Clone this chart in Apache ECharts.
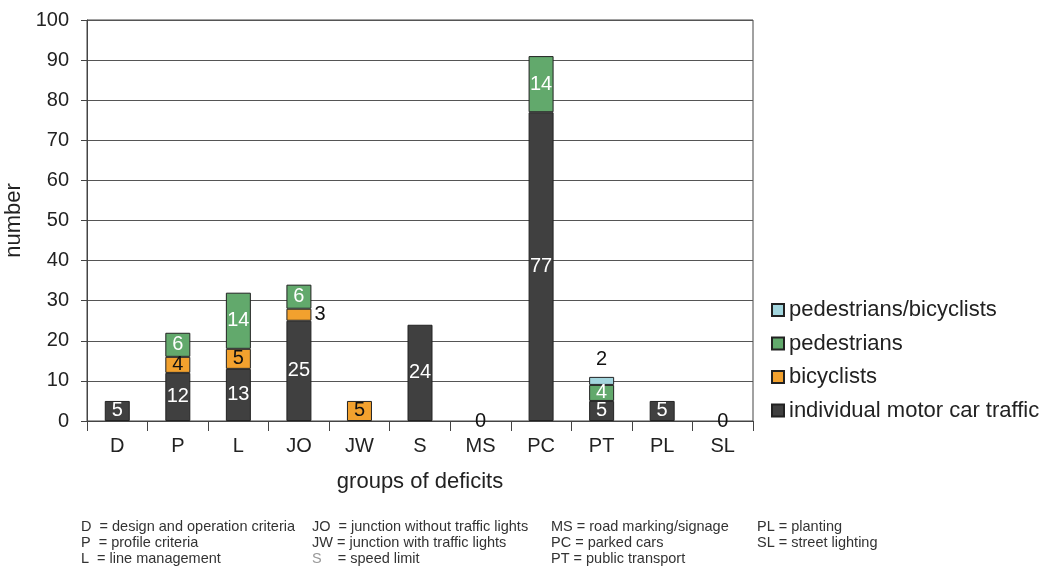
<!DOCTYPE html>
<html>
<head>
<meta charset="utf-8">
<script src="https://cdn.jsdelivr.net/npm/echarts@6/dist/echarts.min.js"></script>
<style>
  html, body { margin: 0; padding: 0; background: #fff; }
  #chart { width: 1050px; height: 569px; }
</style>
</head>
<body>
<div id="chart"></div>
<script>
// Groups of deficits and the number of cases per road-user group
const categories = ['D', 'P', 'L', 'JO', 'JW', 'S', 'MS', 'PC', 'PT', 'PL', 'SL'];
const motorCar    = [5, 12, 13, 25, 0, 24, 0, 77, 5, 5, 0];
const bicyclists  = [0, 4, 5, 3, 5, 0, 0, 0, 0, 0, 0];
const pedestrians = [0, 6, 14, 6, 0, 0, 0, 14, 4, 0, 0];
const pedBic      = [0, 0, 0, 0, 0, 0, 0, 0, 2, 0, 0];
// groups whose empty bar still carries a "0" label
const zeroLabelCats = ['MS', 'SL'];
const yTicks = [0, 10, 20, 30, 40, 50, 60, 70, 80, 90, 100];

const footnotes = [
  ['D  = design and operation criteria', 'P  = profile criteria', 'L  = line management'],
  ['JO  = junction without traffic lights', 'JW = junction with traffic lights', '{g|S}    = speed limit'],
  ['MS = road marking/signage', 'PC = parked cars', 'PT = public transport'],
  ['PL = planting', 'SL = street lighting']
];

const FONT = 'Liberation Sans, Arial, sans-serif';
const BORDER = '#222';
const TEXT = '#222';

function makeData(values, seriesName) {
  return values.map((v, i) => {
    const showZero = seriesName === 'motor' && zeroLabelCats.includes(categories[i]);
    if (v === 0 && !showZero) return { value: 0, label: { show: false }, itemStyle: { borderWidth: 0 } };
    if (v === 0) return { value: 0, label: { show: true, color: '#111' }, itemStyle: { borderWidth: 0 } };
    return { value: v };
  });
}

const baseLabel = { show: true, position: 'inside', fontSize: 20, fontFamily: FONT };

const motorData = makeData(motorCar, 'motor');
const bicData = makeData(bicyclists, 'bic');
// JO bicyclists label sits to the right of its thin segment
bicData[categories.indexOf('JO')].label = { position: 'right', distance: 3, color: '#111' };
const pedData = makeData(pedestrians, 'ped');
const pedBicData = makeData(pedBic, 'pedbic');
pedBicData[categories.indexOf('PT')].label = { position: 'top', distance: 7, color: '#111' };

// legend of abbreviations below the chart
const graphics = [];
const colX = [81, 312, 551, 757];
const rowY = [527, 543, 559];
footnotes.forEach((col, ci) => {
  col.forEach((t, ri) => {
    graphics.push({
      type: 'text', left: colX[ci], top: rowY[ri] - 8,
      style: {
        text: t, fill: '#333', fontSize: 14.5, fontFamily: FONT,
        rich: { g: { fill: '#999', fontSize: 14.5, fontFamily: FONT } }
      }
    });
  });
});

const chart = echarts.init(document.getElementById('chart'));
chart.setOption({
  animation: false,
  backgroundColor: '#fff',
  grid: {
    left: 87, right: 297, top: 20, bottom: 148,
    containLabel: false, outerBoundsMode: 'none',
    show: true, borderColor: '#444', borderWidth: 1
  },
  legend: {
    orient: 'vertical', left: 771, top: 299, itemGap: 11.5, padding: 0,
    itemWidth: 12, itemHeight: 12, icon: 'rect',
    data: ['pedestrians/bicyclists', 'pedestrians', 'bicyclists', 'individual motor car traffic'],
    textStyle: { fontSize: 22, fontFamily: FONT, color: TEXT }
  },
  xAxis: {
    type: 'category', data: categories,
    name: 'groups of deficits', nameLocation: 'middle', nameGap: 50,
    nameTextStyle: { fontSize: 22, fontFamily: FONT, color: TEXT },
    axisLine: { lineStyle: { color: '#444' } },
    axisTick: { show: true, length: 10, lineStyle: { color: '#444' } },
    axisLabel: { fontSize: 20, fontFamily: FONT, color: TEXT, margin: 15 }
  },
  yAxis: {
    type: 'value', min: yTicks[0], max: yTicks[yTicks.length - 1], interval: 10,
    name: 'number', nameLocation: 'middle', nameGap: 57,
    nameTextStyle: { fontSize: 22, fontFamily: FONT, color: TEXT },
    axisLine: { show: true, lineStyle: { color: '#444' } },
    axisTick: { show: true, length: 6, lineStyle: { color: '#444' } },
    axisLabel: { fontSize: 20, fontFamily: FONT, color: TEXT, margin: 18 },
    splitLine: { lineStyle: { color: '#555', width: 1 } }
  },
  series: [
    {
      name: 'individual motor car traffic', type: 'bar', stack: 'all', barWidth: 25,
      itemStyle: { color: '#404040', borderColor: BORDER, borderWidth: 1 },
      label: Object.assign({}, baseLabel, { color: '#fff' }),
      data: motorData
    },
    {
      name: 'bicyclists', type: 'bar', stack: 'all', barWidth: 25,
      itemStyle: { color: '#F2A12E', borderColor: BORDER, borderWidth: 1 },
      label: Object.assign({}, baseLabel, { color: '#111' }),
      data: bicData
    },
    {
      name: 'pedestrians', type: 'bar', stack: 'all', barWidth: 25,
      itemStyle: { color: '#62A96C', borderColor: BORDER, borderWidth: 1 },
      label: Object.assign({}, baseLabel, { color: '#fff' }),
      data: pedData
    },
    {
      name: 'pedestrians/bicyclists', type: 'bar', stack: 'all', barWidth: 25,
      itemStyle: { color: '#A3D6DE', borderColor: BORDER, borderWidth: 1 },
      label: Object.assign({}, baseLabel, { color: '#111' }),
      data: pedBicData
    }
  ],
  graphic: graphics
});
</script>
</body>
</html>
